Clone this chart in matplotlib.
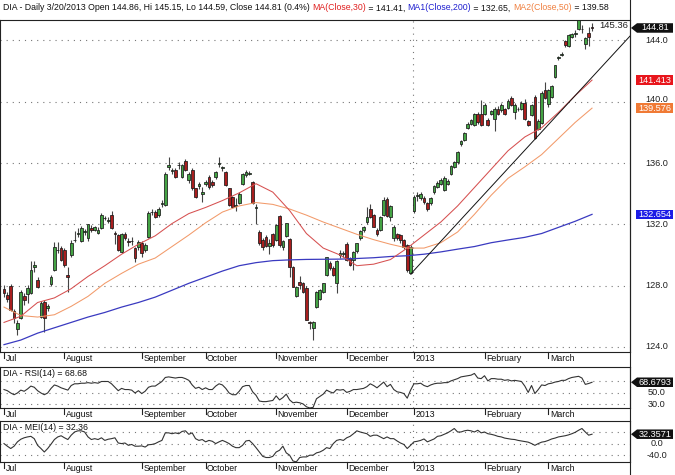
import matplotlib
matplotlib.use("Agg")
import matplotlib.pyplot as plt
import matplotlib.transforms as mtransforms
from matplotlib.patches import Polygon
from matplotlib.lines import Line2D
import numpy as np
import pandas as pd

plt.rcParams['font.family'] = ['Liberation Sans', 'DejaVu Sans']

# ---------------- data ----------------
holidays = ['2012-09-03', '2012-10-29', '2012-10-30', '2012-11-22', '2012-12-25',
            '2013-01-01', '2013-01-21', '2013-02-18']
dates = [d for d in pd.bdate_range('2012-07-06', '2013-03-20')
         if d.strftime('%Y-%m-%d') not in holidays]

month_labels = ['Jul', 'August', 'September', 'October', 'November', 'December',
                '2013', 'February', 'March']

opens = [127.76,127.37,127.97,126.37,125.15,125.87,127.32,127.45,127.50,129.19,
         128.36,125.97,126.95,126.55,128.10,129.00,130.30,130.43,130.32,128.69,
         129.99,130.95,131.35,130.90,131.50,131.08,131.75,131.65,131.45,131.73,
         132.40,132.20,132.60,131.45,131.30,130.20,131.40,130.90,130.90,130.43,
         130.54,130.75,130.32,131.19,132.80,132.82,132.60,133.35,133.25,135.75,
         135.45,135.57,135.85,135.10,136.14,134.88,135.53,134.34,134.50,134.00,
         134.65,135.10,134.75,135.10,135.95,135.68,135.42,134.34,133.79,133.20,
         133.36,134.62,135.20,135.31,134.77,133.05,131.51,130.97,131.19,130.60,
         131.36,130.97,132.53,130.50,131.25,131.01,129.23,127.32,128.26,128.15,
         127.87,125.65,125.22,126.63,127.13,127.60,128.69,129.45,129.17,128.15,
         130.00,130.05,130.69,129.78,129.67,130.25,131.08,131.62,132.17,133.03,
         132.60,131.66,131.62,132.60,133.68,132.49,131.08,131.36,131.30,130.97,
         130.64,128.85,132.88,133.85,133.70,133.70,133.36,133.36,134.12,134.44,
         134.66,134.27,134.65,135.31,135.75,136.07,137.22,137.53,138.31,138.57,
         138.46,139.22,139.18,139.22,138.79,139.22,138.85,139.55,139.44,139.50,
         139.59,140.24,139.33,139.50,139.55,139.94,138.72,139.16,140.31,138.25,
         138.64,140.74,139.88,140.31,141.61,142.85,143.05,143.93,143.63,144.22,
         144.40,144.76,144.75,143.78,144.50,144.86]
highs = [128.04,127.60,128.08,126.45,125.76,127.71,127.50,128.04,129.62,129.62,
         128.54,127.00,127.05,126.80,128.70,130.86,130.86,130.60,130.45,129.19,
         130.97,131.55,131.75,131.90,131.70,132.05,131.95,131.90,131.80,132.75,
         132.55,132.45,132.85,131.55,131.40,131.45,131.50,131.10,131.15,130.55,
         131.00,130.90,130.75,132.85,133.00,132.95,133.15,133.60,135.40,136.40,
         135.65,135.70,136.05,135.95,136.25,135.40,135.65,134.40,134.75,134.45,
         134.90,135.25,134.90,135.50,136.40,135.80,135.50,134.40,133.85,133.70,
         134.10,135.35,135.55,135.50,134.85,133.35,131.60,131.10,131.30,131.05,
         131.45,132.05,132.60,130.95,132.10,131.10,129.30,128.00,128.65,128.25,
         127.95,125.70,125.70,127.65,127.75,128.20,129.90,129.60,129.25,129.65,
         130.35,130.25,130.85,129.90,130.25,130.80,131.60,131.90,133.10,133.30,
         132.65,131.75,132.55,133.80,133.75,133.25,131.95,131.45,131.40,131.05,
         130.70,130.65,133.90,134.10,134.10,133.85,133.45,133.80,134.55,134.80,
         135.00,135.15,134.95,135.85,136.15,136.80,137.50,138.00,138.65,138.90,
         139.25,139.35,140.09,139.90,138.95,139.45,139.65,139.70,139.90,139.60,
         140.15,140.40,139.90,139.65,140.05,140.15,138.80,139.85,140.45,138.85,
         140.70,141.30,140.80,141.10,142.40,143.00,143.25,144.05,144.40,144.50,
         144.70,145.36,145.00,144.20,144.90,145.15]
lows = [127.24,126.95,126.37,125.54,124.78,125.82,126.74,126.89,127.45,128.91,
        127.82,125.90,125.00,126.35,127.95,128.95,130.10,129.60,129.20,127.60,
        129.90,130.85,131.20,130.85,131.30,130.90,131.50,131.55,131.35,131.70,
        132.25,132.10,131.70,130.70,130.25,130.10,131.00,130.60,130.65,129.56,
        130.35,129.85,130.20,131.10,132.60,132.40,132.50,133.15,133.20,135.55,
        135.30,135.00,135.60,135.00,135.45,134.70,134.25,133.70,134.30,133.45,
        134.50,134.30,134.45,134.95,135.75,135.50,134.50,133.20,133.05,132.85,
        133.30,134.55,135.10,135.20,133.30,132.05,130.65,130.35,130.50,130.05,
        130.55,130.90,130.55,130.35,131.20,128.55,127.90,127.25,127.75,127.50,
        125.75,125.20,124.45,126.55,127.05,127.55,128.60,129.05,128.65,127.55,
        129.80,129.90,129.60,129.30,129.05,130.15,131.00,131.50,132.05,132.40,
        131.80,131.25,131.55,132.55,132.45,132.20,130.90,130.95,130.80,130.40,
        128.90,128.75,132.75,133.55,133.60,133.30,132.85,133.25,134.00,134.35,
        134.55,134.20,134.55,135.25,135.65,135.95,137.10,137.45,138.20,138.50,
        138.40,138.55,138.40,139.15,138.40,139.10,138.10,139.10,139.35,139.15,
        139.50,139.70,138.90,139.40,139.45,138.80,138.40,139.05,137.55,138.15,
        138.55,140.15,139.65,140.25,141.55,142.70,142.95,143.60,143.55,144.15,
        144.20,144.70,144.50,143.45,143.65,144.59]
closes = [127.50,127.15,126.41,125.87,125.54,127.60,127.06,127.82,129.00,129.32,
          127.93,126.88,125.87,126.65,128.54,130.50,130.35,129.67,129.34,128.54,
          130.75,131.00,131.42,131.73,131.55,131.99,131.65,131.80,131.60,132.60,
          132.38,132.30,131.73,131.35,130.32,131.40,131.08,130.86,130.93,129.78,
          130.86,130.15,130.64,132.75,132.82,132.49,133.03,133.40,135.31,135.85,
          135.55,135.10,135.85,135.85,135.53,135.31,134.34,133.79,134.65,134.10,
          134.78,134.45,134.55,135.42,136.00,135.72,134.55,133.25,133.14,133.28,
          134.01,135.31,135.40,135.33,133.36,133.15,130.75,130.50,130.60,130.80,
          130.65,131.95,130.64,130.90,132.06,129.23,127.93,127.93,128.04,127.60,
          125.76,125.55,125.60,127.60,127.70,128.15,129.88,129.13,128.69,129.60,
          130.10,130.10,129.67,129.34,130.20,130.75,131.56,131.84,132.49,132.49,
          131.84,131.40,132.49,133.58,132.53,133.20,131.84,131.08,130.97,130.54,
          129.00,130.54,133.79,133.90,134.00,133.47,133.03,133.70,134.49,134.70,
          134.92,135.05,134.80,135.79,136.07,136.73,137.44,137.96,138.57,138.83,
          139.18,138.68,138.46,139.77,138.50,139.37,139.55,139.22,139.77,139.22,
          140.03,139.77,139.81,139.52,139.94,138.85,138.50,139.77,137.64,138.72,
          140.59,140.24,140.74,141.03,142.37,142.92,143.13,143.67,144.33,144.43,
          144.45,145.30,144.72,144.15,144.22,144.81]

rsi = [56,54,50,47,50,55,53,57,62,60, 54,50,47,50,58,64,62,59,57,55,
       63,66,66,67,67,68,67,68,67,70, 70,70,66,60,54,58,56,56,55,50,
       54,49,53,60,62,62,66,70,77,78, 77,76,77,77,75,72,64,58,60,56,
       59,56,56,62,66,64,58,50,47,47, 53,61,63,63,52,46,36,35,35,36,
       37,45,38,42,48,38,33,34,33,31, 26,24,25,40,44,48,55,52,50,56,
       55,56,51,53,56,56,57,58,61,66, 63,59,64,69,61,65,56,52,51,49,
       41,55,66,66,67,63,61,64,66,67, 67,68,68,71,73,75,78,79,80,81,
       84,76,75,80,71,75,75,74,74,72, 73,71,72,71,70,62,51,63,49,56,
       64,63,66,67,69,70,72,72,75,77, 78,79,76,65,66.5,68.68]
mei = [0,-9,-17,-9,6,15,20,23,25,17, -6,-17,-29,-17,-2,14,23,27,20,14,
       29,40,44,44,40,23,14,17,14,20, 11,15,17,20,2,0,2,-6,-3,-9,
       -9,-8,-12,-4,-3,0,6,11,37,37, 34,37,34,42,44,32,37,17,11,14,
       6,11,8,0,6,11,6,0,-9,-14, -14,-6,9,11,0,-14,-29,-44,-48,-48,
       -44,-29,-23,-9,-32,-40,-60,-63,-48,-46, -46,-40,-40,-32,-29,-23,-14,-17,0,11,
       14,11,20,25,34,44,40,37,34,25, 29,29,23,17,23,17,17,9,2,-3,
       -17,-6,6,8,11,16,6,11,16,25, 27,32,37,44,52,40,40,44,46,44,
       40,46,37,40,34,32,29,25,23,19, 17,15,14,11,9,7,5,0,-6,0,
       5,7,11,16,19,23,25,27,30,34, 39,46,52,40,29,32.36]

ma_days = list(range(0, 176, 5))
ma30 = [125.6,126.0,126.9,127.2,127.8,128.6,129.3,130.05,130.7,131.25,132.05,132.7,
        133.1,133.55,134.05,134.65,134.1,132.9,131.4,130.45,130.0,129.3,129.4,129.7,
        130.45,131.3,132.15,133.2,134.4,135.6,136.8,137.7,138.3,139.3,140.4,141.41]
ma50 = [126.6,126.05,125.95,126.1,126.65,127.3,128.15,128.8,129.4,129.8,130.55,131.3,
        132.1,132.8,133.2,133.42,133.3,133.0,132.6,132.15,131.75,131.35,131.0,130.7,
        130.45,130.45,130.8,131.5,132.65,133.9,135.0,135.75,136.55,137.6,138.65,139.58]
ma200 = [124.15,124.45,124.9,125.25,125.6,125.95,126.25,126.6,126.9,127.25,127.7,128.15,
         128.55,128.95,129.3,129.5,129.63,129.68,129.71,129.72,129.73,129.77,129.82,129.9,
         129.95,130.05,130.2,130.38,130.55,130.8,130.98,131.15,131.4,131.8,132.2,132.65]

trend_anchor_days = [121, 158]

price_ticks = [124, 128, 132, 136, 140, 144]
price_tick_labels = ['124.0', '128.0', '132.0', '136.0', '140.0', '144.0']
rsi_ticks = [30, 50, 70]
rsi_tick_labels = ['30.0', '50.0', None]      # 70.0 sits under the value box
mei_ticks = [-40, 0, 40]
mei_tick_labels = ['-40.0', '0.0', None]      # 40.0 sits under the value box

title_parts = [("DIA - Daily 3/20/2013 Open 144.86, Hi 145.15, Lo 144.59, Close 144.81 (0.4%) ", '#111111'),
               ("MA(Close,30)", '#e02020'), (" = 141.41, ", '#111111'),
               ("MA1(Close,200)", '#2020d0'), (" = 132.65, ", '#111111'),
               ("MA2(Close,50)", '#f08040'), (" = 139.58", '#111111')]
high_label = '145.36'
close_box = '144.81'
ma30_box, ma50_box, ma200_box = '141.413', '139.576', '132.654'
rsi_title, rsi_box = 'DIA - RSI(14) = 68.68', '68.6793'
mei_title, mei_box = 'DIA - MEI(14) = 32.36', '32.3571'

# ---------------- figure ----------------
W, H = 675, 475
PLOT_R = 630
FS = 6.3
BOX_H = 9.5
fig = plt.figure(figsize=(W / 100, H / 100), dpi=100)
fig.patch.set_facecolor('white')


def add_pane(top, bottom):
    return fig.add_axes([0, 1 - bottom / H, PLOT_R / W, (bottom - top) / H])


panes = [(add_pane(20, 352), 332), (add_pane(367, 408), 41), (add_pane(421, 462), 41)]
ax, ax_r, ax_m = [p[0] for p in panes]
n = len(closes)
x = np.arange(n)
XL = (-1.19, 186.3)
for a, _ in panes:
    a.set_xlim(*XL)
    a.set_xticks([])
    a.set_yticks([])
    for s in a.spines.values():
        s.set_color('#222222')
        s.set_linewidth(0.8)
ax.set_ylim(123.67, 145.33)
ax_r.set_ylim(23.9, 95.2)
ax_m.set_ylim(-63.5, 77.9)

dot = (0, (1, 4.5))
year_idx = next(i for i, d in enumerate(dates) if d.year == 2013)
for a, ticks in ((ax, price_ticks), (ax_r, rsi_ticks), (ax_m, mei_ticks)):
    for v in ticks:
        a.axhline(v, color='#777777', lw=0.8, ls=dot, zorder=0)
    a.axvline(year_idx - 0.4, color='#777777', lw=0.8, ls=dot, zorder=0)

# month ticks / labels under each pane
mstarts = [0] + [i for i in range(1, n) if dates[i].month != dates[i - 1].month]
for a, hpx in panes:
    tr = mtransforms.blended_transform_factory(a.transData, a.transAxes)
    for i, lab in zip(mstarts, month_labels):
        a.plot([i, i], [0, -6 / hpx], transform=tr, clip_on=False, color='#222222', lw=0.8)
        a.text(i + 0.45, -6.5 / hpx, lab, transform=tr, ha='left', va='center',
               fontsize=FS, color='#111111', clip_on=False)

# candles
o, hi, lo, c = map(np.array, (opens, highs, lows, closes))
up = c >= o
ax.vlines(x, lo, hi, color='#444444', lw=0.8, zorder=2)
blo = np.minimum(o, c)
bh = np.maximum(np.abs(c - o), 0.035)
ax.bar(x[up], bh[up], bottom=blo[up], width=0.82, color='#44a344', edgecolor='#1a1a1a',
       linewidth=0.55, zorder=3)
ax.bar(x[~up], bh[~up], bottom=blo[~up], width=0.82, color='#a81e1e', edgecolor='#1a1a1a',
       linewidth=0.55, zorder=3)

# moving averages
ax.plot(ma_days, ma200, color='#3a3ac0', lw=0.9, zorder=4)
ax.plot(ma_days, ma50, color='#f29a6a', lw=0.75, zorder=4)
ax.plot(ma_days, ma30, color='#d65050', lw=0.75, zorder=4)

# trend line through two swing lows
a0, a1 = trend_anchor_days
slope = (lows[a1] - lows[a0]) / (a1 - a0)
ax.plot([a0, XL[1]], [lows[a0], lows[a0] + slope * (XL[1] - a0)], color='#111111', lw=0.7, zorder=4)

# indicators
ax_r.plot(x, rsi, color='#333333', lw=0.8)
ax_m.plot(x, mei, color='#333333', lw=0.8)
ax_r.text(3 / PLOT_R, 1 - 6 / 41, rsi_title, transform=ax_r.transAxes, fontsize=FS,
          va='center', ha='left', color='#111111')
ax_m.text(3 / PLOT_R, 1 - 6.5 / 41, mei_title, transform=ax_m.transAxes, fontsize=FS,
          va='center', ha='left', color='#111111')

# value boxes on the right edge: (axes, value, text, colour, arrow)
boxes = [(ax, closes[-1], close_box, '#111111', True),
         (ax, ma30[-1], ma30_box, '#e8161c', False),
         (ax, ma50[-1], ma50_box, '#f07a35', False),
         (ax, ma200[-1], ma200_box, '#1c1ce6', False),
         (ax_r, rsi[-1], rsi_box, '#111111', True),
         (ax_m, mei[-1], mei_box, '#111111', True)]
box_y = [b[0].transData.transform((0, b[1]))[1] for b in boxes]

# right axis labels (nudged just clear of a value box when they would collide)
for a, ticks, labs in ((ax, price_ticks, price_tick_labels), (ax_r, rsi_ticks, rsi_tick_labels),
                       (ax_m, mei_ticks, mei_tick_labels)):
    for v, t in zip(ticks, labs):
        if t is None:
            continue
        yd = a.transData.transform((0, v))[1]
        for by in box_y:
            if abs(yd - by) < BOX_H / 2 + 4.2:
                yd = by + BOX_H / 2 + 4.2 if yd >= by else by - BOX_H / 2 - 4.2
        fig.text(657 / W, yd / H, t, ha='center', va='center', fontsize=FS + 0.3, color='#222222')


def value_box(yd, txt, fc, arrow=False):
    h = BOX_H
    if arrow:
        pts = [(631, yd), (637, yd + h / 2), (673, yd + h / 2), (673, yd - h / 2), (637, yd - h / 2)]
    else:
        pts = [(636, yd + h / 2), (673, yd + h / 2), (673, yd - h / 2), (636, yd - h / 2)]
    fig.add_artist(Polygon(pts, closed=True, facecolor=fc, edgecolor='none',
                           transform=mtransforms.IdentityTransform(), zorder=5))
    fig.text(655 / W, yd / H, txt, color='white', fontsize=FS + 0.3, ha='center', va='center', zorder=6)


for (a, v, t, col, arr), yd in zip(boxes, box_y):
    value_box(yd, t, col, arr)

fig.text(628 / W, 1 - 25 / H, high_label, ha='right', va='center', fontsize=FS + 0.5, color='#222222')

# right separator
fig.add_artist(Line2D([PLOT_R / W, PLOT_R / W], [0, 1], transform=fig.transFigure,
                      color='#222222', lw=0.8))

# title, fitted to the reference width
renderer = fig.canvas.get_renderer()


def draw_title(fs):
    xp = 3
    objs = []
    for txt, col in title_parts:
        t = fig.text(xp / W, 1 - 8 / H, txt, color=col, fontsize=fs, ha='left', va='center')
        xp += t.get_window_extent(renderer=renderer).width
        objs.append(t)
    return objs, xp - 3


objs, wdt = draw_title(6.5)
for t in objs:
    t.remove()
draw_title(6.5 * 605 / wdt)

fig.savefig('out.png', dpi=100, facecolor='white')
